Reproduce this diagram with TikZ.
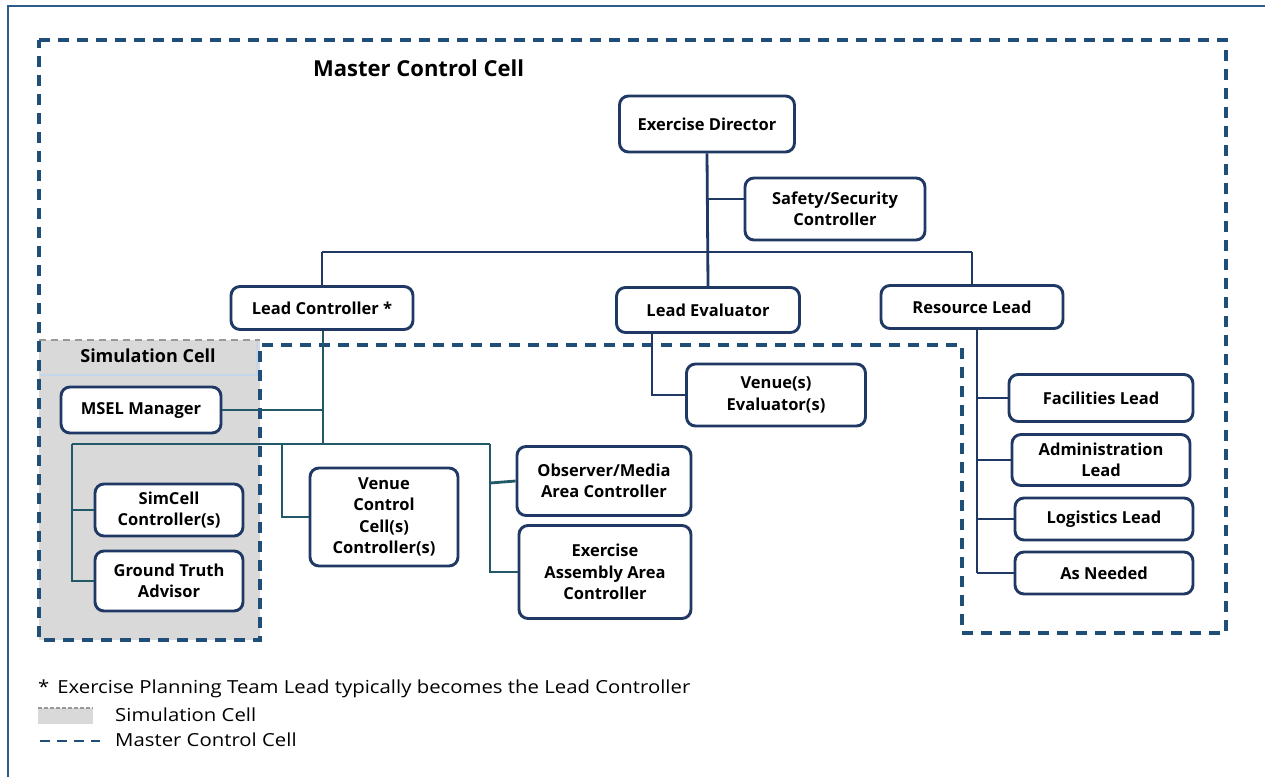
\documentclass[tikz,border=0pt]{standalone}
\usepackage{fontspec}
\setmainfont{Open Sans}
\definecolor{navy}{HTML}{203864}
\definecolor{frameblue}{HTML}{2E5C8A}
\definecolor{mcc}{HTML}{1F4E79}
\definecolor{teal}{HTML}{215968}
\definecolor{simgray}{HTML}{D9D9D9}
\definecolor{hdrline}{HTML}{C5D5EA}
\tikzset{
  bx/.style={draw=navy, line width=2.9pt, rounded corners=9pt, fill=white, inner sep=0pt,
    align=center, font=\fontsize{16.5}{21.5}\selectfont\bfseries},
  conn/.style={draw=navy, line width=2.8pt},
  tconn/.style={draw=teal, line width=2.8pt},
  mccline/.style={draw=mcc, line width=3.3pt, dash pattern=on 11pt off 8pt},
  grayline/.style={draw=gray!80, line width=2pt, dash pattern=on 7pt off 5pt},
  lbl/.style={inner sep=0pt, anchor=west, font=\fontsize{18}{20}\selectfont},
}
\begin{document}
\begin{tikzpicture}[x=1pt,y=-1pt]
\useasboundingbox (0,0) rectangle (1265,777);
% outer frame
\draw[frameblue, line width=2.8pt] (8,777) -- (8,6) -- (1265,6);
% simulation cell background
\fill[simgray] (39,340) rectangle (260,640);
\draw[grayline] (39,340) -- (260,340);
\draw[hdrline, line width=1.4pt] (40,375) -- (257,375) -- (257,342);
\node[inner sep=0pt, font=\fontsize{18}{20}\selectfont\bfseries] (simtitle) at (148,356) {Simulation Cell};
% master control cell outline
\draw[mccline] (39,40) -- (1226,40) -- (1226,633) -- (962,633) -- (962,345) -- (260,345) -- (260,640) -- (39,640) -- cycle;
\node[inner sep=0pt, anchor=west, font=\fontsize{22}{24}\selectfont\bfseries] (mcctitle) at (313,68) {Master Control Cell};

% boxes
\node[bx, minimum width=175, minimum height=56] (ed) at (707,124) {Exercise Director};
\node[bx, minimum width=180, minimum height=62] (ss) at (835,209) {Safety/Security\\Controller};
\node[bx, minimum width=182, minimum height=43] (lc) at (322,308) {Lead Controller *};
\node[bx, minimum width=183, minimum height=45] (le) at (708,310) {Lead Evaluator};
\node[bx, minimum width=182, minimum height=43] (rl) at (972,307) {Resource Lead};
\node[bx, minimum width=179, minimum height=62] (ve) at (776,395) {Venue(s)\\Evaluator(s)};
\node[bx, minimum width=160, minimum height=46] (msel) at (141,410) {MSEL Manager};
\node[bx, minimum width=148, minimum height=52] (sim) at (169,510) {SimCell\\Controller(s)};
\node[bx, minimum width=148, minimum height=60] (gt) at (169,581) {Ground Truth\\Advisor};
\node[bx, minimum width=148, minimum height=98] (vcc) at (384,517) {Venue\\Control\\Cell(s)\\Controller(s)};
\node[bx, minimum width=174, minimum height=69] (om) at (604,481) {Observer/Media\\Area Controller};
\node[bx, minimum width=172, minimum height=93] (ea) at (605,572) {Exercise\\Assembly Area\\Controller};
\node[bx, minimum width=184, minimum height=47] (fl) at (1101,398) {Facilities Lead};
\node[bx, minimum width=178, minimum height=51] (al) at (1101,460) {Administration\\Lead};
\node[bx, minimum width=178, minimum height=42] (ll) at (1104,519) {Logistics Lead};
\node[bx, minimum width=178, minimum height=42] (an) at (1104,573) {As Needed};

% coordinates for connectors
\coordinate (j2) at (322,252);
\coordinate (j3) at (972,252);
\coordinate (lcj) at (323,444);
\coordinate (msj) at (323,410);
\coordinate (lx) at (72,444);
\coordinate (mx) at (282,444);
\coordinate (rx) at (490,444);
\coordinate (rlx) at (977,328);

% top connectors
\draw[conn] (ed.south) -- (le.north);
\draw[conn] (ss.west |- 0,199) -- (707,199);
\draw[conn] (j2) -- (j3);
\draw[conn] (j2) -- (lc.north -| j2);
\draw[conn] (j3) -- (rl.north -| j3);
% lead evaluator
\draw[conn] (le.south -| 652,0) |- (ve.west);
% resource lead
\draw[conn] (rlx) -- (977,573);
\draw[conn] (977,398) -- (fl.west);
\draw[conn] (977,460) -- (al.west);
\draw[conn] (977,519) -- (ll.west);
\draw[conn] (977,573) -- (an.west);
% lead controller subtree
\draw[tconn] (lc.south -| lcj) -- (lcj);
\draw[tconn] (msel.east) -- (msj);
\draw[tconn] (lx) -- (rx);
\draw[tconn] (lx) |- (gt.west);
\draw[tconn] (72,510) -- (sim.west);
\draw[tconn] (mx) |- (vcc.west);
\draw[tconn] (rx) |- (ea.west);
\draw[tconn] (490,483) -- (om.west);

% footer
\node[lbl] (note) at (38,689) {\scalebox{1.13}[1]{*\hspace{7pt}Exercise Planning Team Lead typically becomes the Lead Controller}};
\fill[simgray] (38,708) rectangle (93,724);
\draw[gray!80, line width=1.2pt, dash pattern=on 4pt off 2pt] (38,708) -- (93,708);
\node[lbl] (l1) at (115,715) {\scalebox{1.13}[1]{Simulation Cell}};
\draw[mcc, line width=2.8pt, dash pattern=on 10pt off 7pt] (40,741) -- (100,741);
\node[lbl] (l2) at (115,740) {\scalebox{1.13}[1]{Master Control Cell}};
\end{tikzpicture}
\end{document}
